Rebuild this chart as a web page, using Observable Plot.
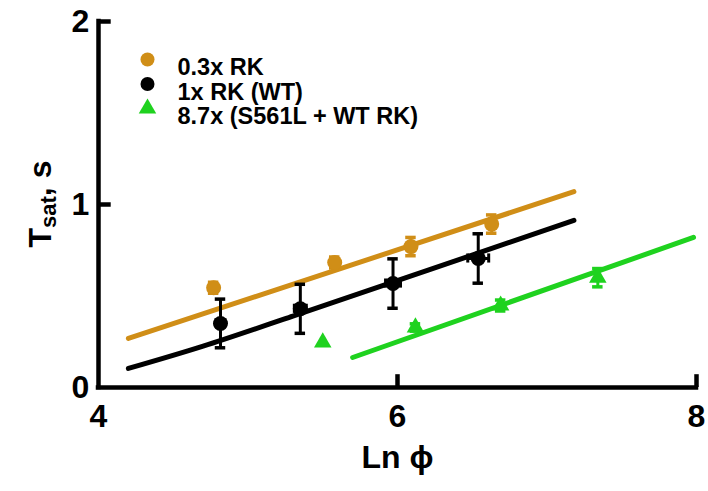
<!DOCTYPE html>
<html><head><meta charset="utf-8">
<script src="https://cdn.jsdelivr.net/npm/d3@7"></script>
<script src="https://cdn.jsdelivr.net/npm/@observablehq/plot@0.6"></script>
<style>
body{margin:0;background:#fff;}
</style>
</head><body>
<div id="chart"></div>
<script>
// Series labels and colours
const seriesNames = ["0.3x RK", "1x RK (WT)", "8.7x (S561L + WT RK)"];
const seriesColors = ["#D08E17", "#000000", "#1FD21F"];

// 0.3x RK data points
const orangeX = [4.77, 5.58, 6.09, 6.63];
const orangeY = [0.545, 0.683, 0.770, 0.893];
const orangeErr = [0.03, 0.03, 0.05, 0.05];
// 1x RK (WT)
const blackX = [4.816, 5.35, 5.97, 6.54];
const blackY = [0.35, 0.43, 0.568, 0.705];
const blackErr = [0.133, 0.134, 0.135, 0.135];
const blackXErr = [0.03, 0.04, 0.05, 0.07];
// 8.7x (S561L + WT RK)
const greenX = [5.50, 6.12, 6.69, 7.34];
const greenY = [0.246, 0.328, 0.448, 0.60];
const greenErr = [0, 0.02, 0.03, 0.05];

// fitted curves
const orangeFitX = [4.20, 7.18];
const orangeFitY = [0.268, 1.07];
const blackFitX = [4.20, 4.70, 5.30, 6.20, 7.18];
const blackFitY = [0.104, 0.226, 0.39, 0.64, 0.913];
const greenFitX = [5.70, 7.98];
const greenFitY = [0.164, 0.82];

// axis ticks
const xTicks = [4, 6, 8];
const yTicks = [0, 1, 2];

const mk = (xs, ys, es, xe) => xs.map((x, i) => ({x, y: ys[i], e: es[i], xe: xe ? xe[i] : 0}));
const orange = mk(orangeX, orangeY, orangeErr);
const black = mk(blackX, blackY, blackErr, blackXErr);
const green = mk(greenX, greenY, greenErr);
const fit = (xs, ys) => xs.map((x, i) => ({x, y: ys[i]}));

const FONT = "'Liberation Sans Narrow', 'Liberation Sans', Arial, sans-serif";
const LFONT = "'Liberation Sans', Arial, sans-serif";
const capW = 0.035;

function errMarks(data, color) {
  return [
    Plot.ruleX(data.filter(d => d.e > 0), {x: "x", y1: d => d.y - d.e, y2: d => d.y + d.e, stroke: color, strokeWidth: 3}),
    Plot.ruleY(data.filter(d => d.e > 0), {y: d => d.y - d.e, x1: d => d.x - capW, x2: d => d.x + capW, stroke: color, strokeWidth: 3.5}),
    Plot.ruleY(data.filter(d => d.e > 0), {y: d => d.y + d.e, x1: d => d.x - capW, x2: d => d.x + capW, stroke: color, strokeWidth: 3.5})
  ];
}

const chart = Plot.plot({
  width: 708,
  height: 491,
  marginLeft: 98,
  marginRight: 12,
  marginTop: 21,
  marginBottom: 104,
  x: {domain: [4, 8], axis: null},
  y: {domain: [0, 2], axis: null},
  style: {background: "#fff", overflow: "visible"},
  marks: [
    // fitted lines
    Plot.line(fit(orangeFitX, orangeFitY), {x: "x", y: "y", stroke: seriesColors[0], strokeWidth: 5}),
    Plot.line(fit(blackFitX, blackFitY), {x: "x", y: "y", stroke: seriesColors[1], strokeWidth: 5, curve: "natural"}),
    Plot.line(fit(greenFitX, greenFitY), {x: "x", y: "y", stroke: seriesColors[2], strokeWidth: 5}),
    // error bars
    ...errMarks(orange, seriesColors[0]),
    ...errMarks(black, seriesColors[1]),
    Plot.ruleY(black, {y: "y", x1: d => d.x - d.xe, x2: d => d.x + d.xe, stroke: "#000", strokeWidth: 3}),
    Plot.ruleX(black, {x: d => d.x - d.xe, y1: d => d.y - 0.025, y2: d => d.y + 0.025, stroke: "#000", strokeWidth: 3}),
    Plot.ruleX(black, {x: d => d.x + d.xe, y1: d => d.y - 0.025, y2: d => d.y + 0.025, stroke: "#000", strokeWidth: 3}),
    ...errMarks(green, seriesColors[2]),
    // points
    Plot.dot(orange, {x: "x", y: "y", r: 7.5, fill: seriesColors[0], stroke: "none"}),
    Plot.dot(black, {x: "x", y: "y", r: 7.5, fill: seriesColors[1], stroke: "none"}),
    Plot.dot(green, {x: "x", y: "y", r: 6.5, symbol: "triangle", fill: seriesColors[2], stroke: "none"}),
    // axes
    Plot.ruleX([4], {stroke: "#000", strokeWidth: 4.5, strokeLinecap: "square"}),
    Plot.ruleY([0], {stroke: "#000", strokeWidth: 4.5, strokeLinecap: "square"}),
    Plot.ruleY(yTicks.filter(t => t > 0), {y: d => d, x1: 4, x2: 4.085, stroke: "#000", strokeWidth: 4.5}),
    Plot.ruleX(xTicks.filter(t => t > 4), {x: d => d, y1: 0, y2: 0.07, stroke: "#000", strokeWidth: 4.5}),
    Plot.text(xTicks, {x: d => d, y: 0, text: d => String(d), dy: 29, fontSize: 32, fontWeight: "bold", fontFamily: FONT, fill: "#000"}),
    Plot.text(yTicks, {x: 4, y: d => d, text: d => String(d), dx: -18, fontSize: 32, fontWeight: "bold", fontFamily: FONT, fill: "#000", textAnchor: "middle"}),
    // x title
    Plot.text(["Ln \u03D5"], {frameAnchor: "bottom", dy: 80, text: d => d, fontSize: 32, fontWeight: "bold", fontFamily: FONT, fill: "#000"}),
    // legend
    ...seriesNames.map((name, i) => [
      Plot.dot([name], {frameAnchor: "top-left", dx: 49, dy: 38 + i * 24.5, r: i === 2 ? 6.5 : 7, symbol: i === 2 ? "triangle" : "circle", fill: seriesColors[i], stroke: "none"}),
      Plot.text([name], {frameAnchor: "top-left", dx: 79, dy: 37 + i * 24.5, text: d => d, textAnchor: "start", fontSize: 23.5, fontWeight: "bold", fontFamily: LFONT, fill: "#000"})
    ]).flat()
  ]
});

document.getElementById("chart").appendChild(chart);

// y-axis title with subscript
const svg = d3.select(chart);
const t = svg.append("text")
  .attr("transform", "translate(40,204) rotate(-90)")
  .attr("text-anchor", "middle")
  .attr("font-family", FONT)
  .attr("font-weight", "bold")
  .attr("font-size", 32)
  .attr("fill", "#000")
  .attr("dominant-baseline", "central");
t.append("tspan").text("T");
t.append("tspan").attr("font-size", 22).attr("dy", 8).text("sat");
t.append("tspan").attr("dy", -8).text(", s");
</script>
</body></html>
